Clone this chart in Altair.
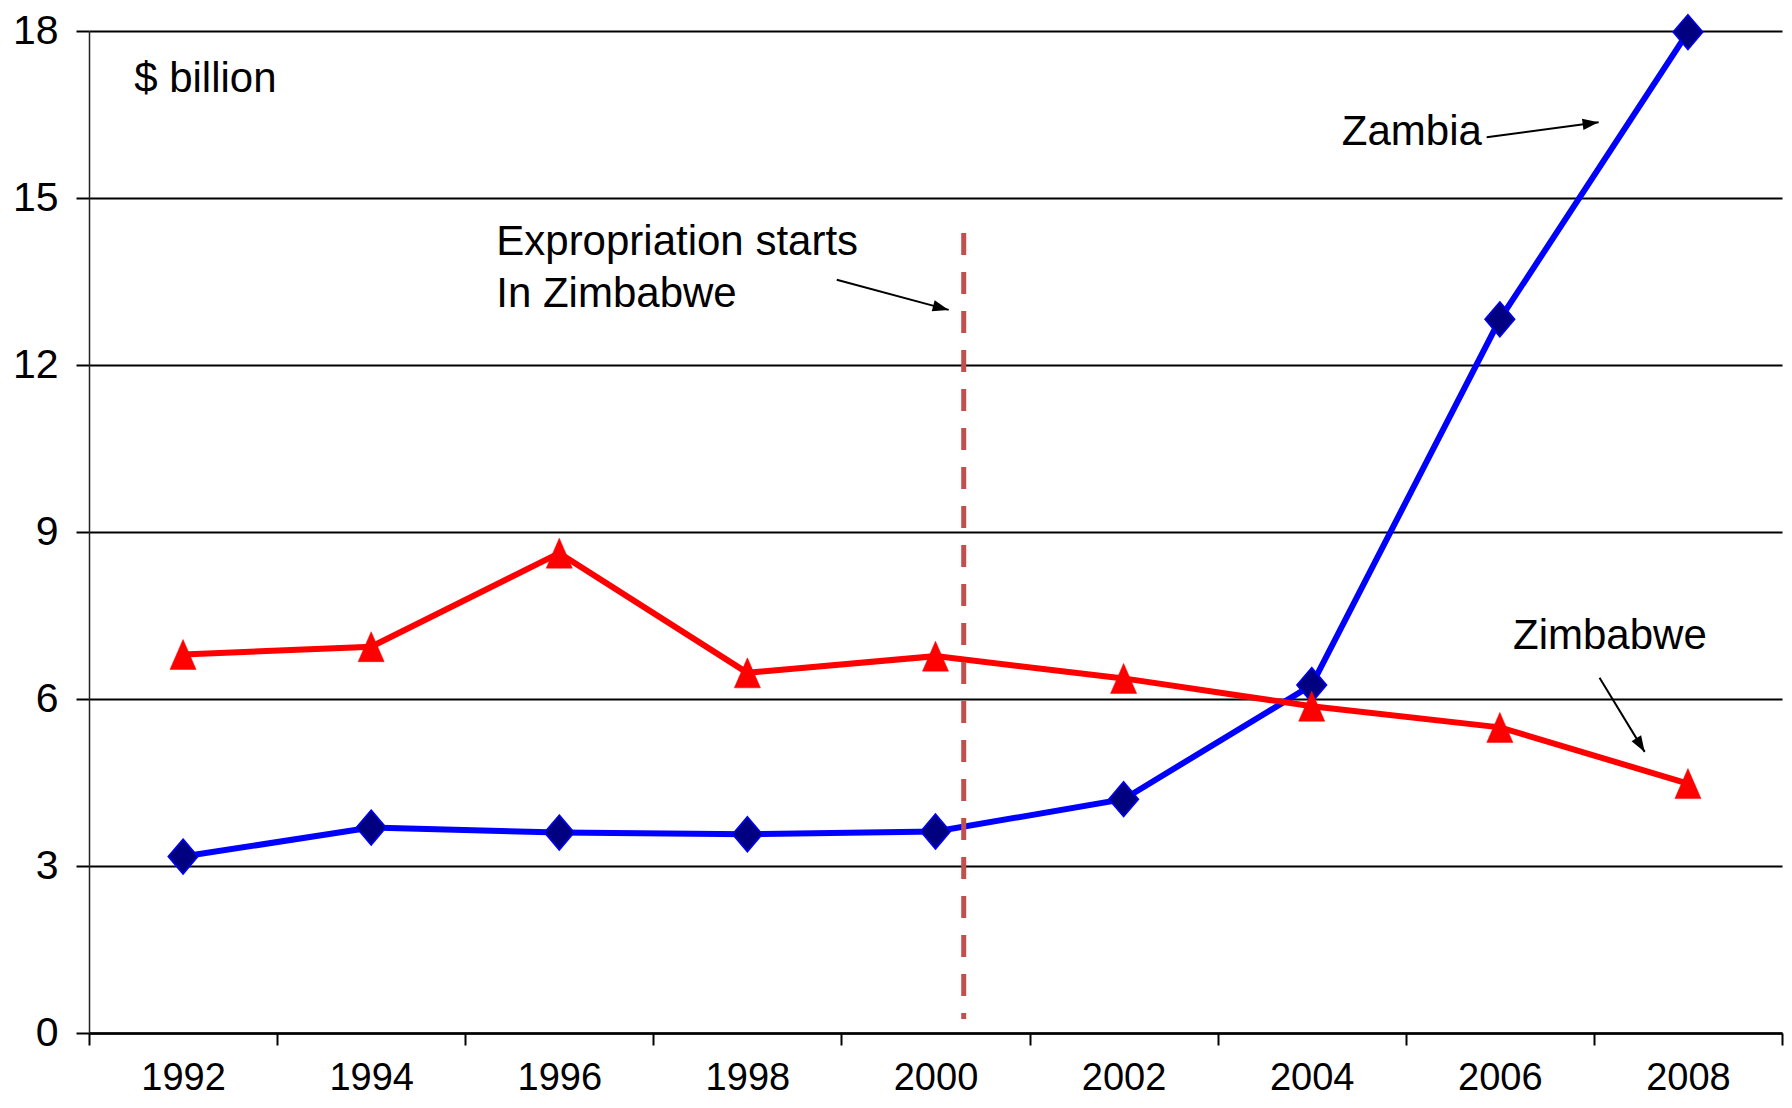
import math
import altair as alt
import pandas as pd

# ---------------- data ----------------
years = [1992, 1994, 1996, 1998, 2000, 2002, 2004, 2006, 2008]
zambia = [3.17, 3.69, 3.60, 3.57, 3.62, 4.20, 6.25, 12.82, 17.98]
zimbabwe = [6.80, 6.94, 8.62, 6.47, 6.77, 6.37, 5.87, 5.49, 4.48]

y_ticks = [0, 3, 6, 9, 12, 15, 18]
x_labels = years
x_tick_edges = [1991, 1993, 1995, 1997, 1999, 2001, 2003, 2005, 2007, 2009]

note_text = ["$ billion", "Expropriation starts", "In Zimbabwe", "Zambia", "Zimbabwe"]
note_x = [1991.48, 1995.33, 1995.33, 2004.32, 2006.14]
note_y = [16.90, 13.98, 13.04, 15.95, 6.90]

arrow_x1 = [1998.95, 2005.86, 2007.06]
arrow_y1 = [13.53, 16.09, 6.38]
arrow_x2 = [2000.14, 2007.05, 2007.54]
arrow_y2 = [12.99, 16.36, 5.05]

event_x = [2000.30]
event_top = [14.37]
event_bottom = [0.25]

# ---------------- layout ----------------
W, H = 1693, 1002
X_DOMAIN = [1991, 2009]
Y_DOMAIN = [0, 18]
px_per_x = W / (X_DOMAIN[1] - X_DOMAIN[0])
px_per_y = H / (Y_DOMAIN[1] - Y_DOMAIN[0])

FONT = "Liberation Sans, Arial, Helvetica, sans-serif"

zam_df = pd.DataFrame({"year": years, "value": zambia})
zim_df = pd.DataFrame({"year": years, "value": zimbabwe})
note_df = pd.DataFrame({"text": note_text, "x": note_x, "y": note_y})
arr_df = pd.DataFrame({"x1": arrow_x1, "y1": arrow_y1, "x2": arrow_x2, "y2": arrow_y2})
arr_df["ang"] = [
    (math.degrees(math.atan2(-(b2 - b1) * px_per_y, (a2 - a1) * px_per_x)) + 360) % 360
    for a1, b1, a2, b2 in zip(arrow_x1, arrow_y1, arrow_x2, arrow_y2)
]
event_df = pd.DataFrame({"x": event_x, "top": event_top, "bottom": event_bottom})

xscale = alt.Scale(domain=X_DOMAIN, nice=False, zero=False)
yscale = alt.Scale(domain=Y_DOMAIN, nice=False, zero=False)

y_axis = alt.Axis(
    values=y_ticks, grid=True, gridColor="black", gridWidth=2,
    tickSize=13, tickColor="black", tickWidth=2,
    domainColor="#222222", domainWidth=1.5,
    labelFont=FONT, labelFontSize=41, labelColor="black", labelPadding=18,
    title=None,
)
label_axis = alt.Axis(
    orient="bottom", values=x_labels, format="d", ticks=False, tickSize=0,
    domain=False, grid=False,
    labelFont=FONT, labelFontSize=38, labelColor="black", labelPadding=56,
    labelBaseline="alphabetic",
    labelFlush=False, labelOverlap=False, title=None,
)
tick_axis = alt.Axis(
    orient="bottom", values=x_tick_edges, labels=False, grid=False,
    tickSize=12, tickColor="black", tickWidth=2,
    domainColor="black", domainWidth=2.5, title=None,
)


def X(field, axis=None):
    return alt.X(field, type="quantitative", scale=xscale, axis=axis)


def Y(field):
    return alt.Y(field, type="quantitative", scale=yscale, axis=y_axis)


diamond = "M0,-1L0.85,0L0,1L-0.85,0Z"
triangle = "M0,-1L0.87,1L-0.87,1Z"
arrowhead = "M0,0L-1,-0.35L-1,0.35Z"

zam_line = alt.Chart(zam_df).mark_line(color="#0000FF", strokeWidth=6).encode(
    x=X("year", label_axis), y=Y("value"))
zam_pts = alt.Chart(zam_df).mark_point(
    shape=diamond, filled=True, fill="#000080", stroke="#0000FF", strokeWidth=1.5,
    size=1225, opacity=1).encode(x=X("year"), y=Y("value"))
zim_line = alt.Chart(zim_df).mark_line(color="#FF0000", strokeWidth=6).encode(
    x=X("year", tick_axis), y=Y("value"))
zim_pts = alt.Chart(zim_df).mark_point(
    shape=triangle, filled=True, fill="#FF0000", stroke="#FF0000", strokeWidth=0.5,
    size=900, opacity=1).encode(x=X("year"), y=Y("value"))

event = alt.Chart(event_df).mark_rule(
    color="#C0504D", strokeWidth=5, strokeDash=[22, 17]).encode(
    x=X("x"), y=Y("top"), y2="bottom")

arrows = alt.Chart(arr_df).mark_rule(color="black", strokeWidth=2).encode(
    x=X("x1"), y=Y("y1"), x2="x2", y2="y2")
heads = alt.Chart(arr_df).mark_point(
    shape=arrowhead, filled=True, color="black", size=1024, opacity=1).encode(
    x=X("x2"), y=Y("y2"), angle=alt.Angle("ang:Q", scale=None))

notes = alt.Chart(note_df).mark_text(
    align="left", baseline="alphabetic", font=FONT, fontSize=42, color="black").encode(
    x=X("x"), y=Y("y"), text="text:N")

chart = alt.layer(
    zam_line, zam_pts, zim_line, zim_pts, event, arrows, heads, notes
).resolve_axis(x="independent").properties(
    width=W, height=H,
    autosize=alt.AutoSizeParams(type="none"),
    padding={"left": 81, "top": 23, "right": 2, "bottom": 64},
    background="white",
).configure_view(stroke=None)

chart.save("out.html", embed_options={"renderer": "svg", "actions": False})
